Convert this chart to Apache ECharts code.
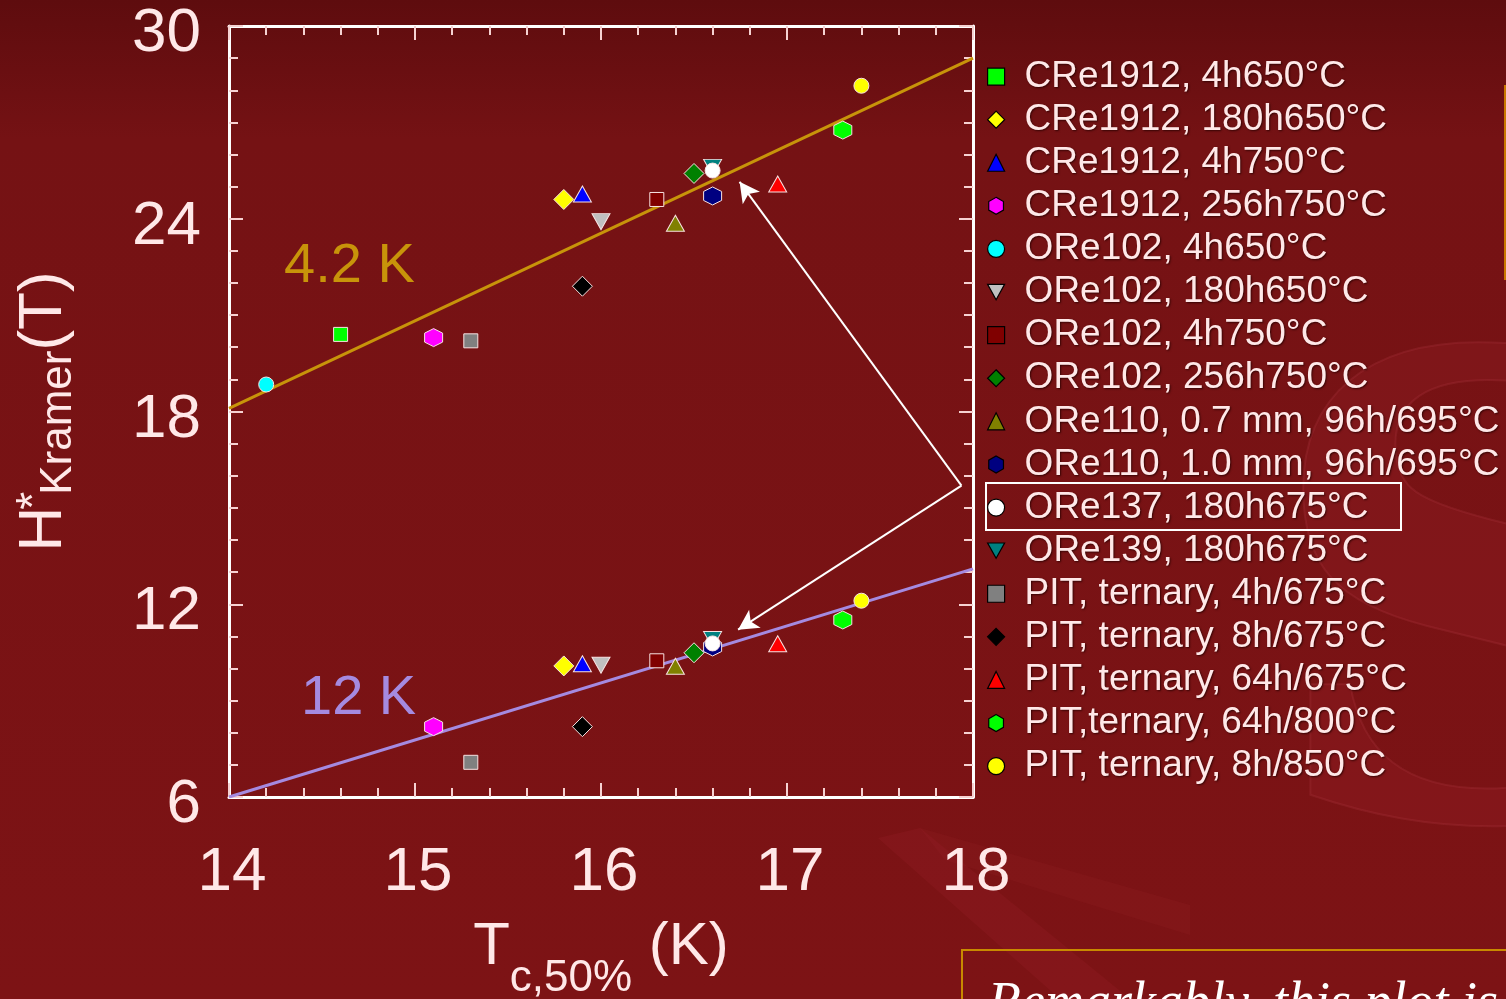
<!DOCTYPE html>
<html>
<head>
<meta charset="utf-8">
<title>Kramer field vs Tc</title>
<script src="https://cdn.jsdelivr.net/npm/echarts@6/dist/echarts.min.js"></script>
<style>
  html, body { margin: 0; padding: 0; background: #7a1214; }
  #chart { width: 1506px; height: 999px; }
</style>
</head>
<body>
<div id="chart"></div>
<script>
// Samples (wire, heat treatment)
const sampleNames = [
  'CRe1912, 4h650°C',
  'CRe1912, 180h650°C',
  'CRe1912, 4h750°C',
  'CRe1912, 256h750°C',
  'ORe102, 4h650°C',
  'ORe102, 180h650°C',
  'ORe102, 4h750°C',
  'ORe102, 256h750°C',
  'ORe110, 0.7 mm, 96h/695°C',
  'ORe110, 1.0 mm, 96h/695°C',
  'ORe137, 180h675°C',
  'ORe139, 180h675°C',
  'PIT, ternary, 4h/675°C',
  'PIT, ternary, 8h/675°C',
  'PIT, ternary, 64h/675°C',
  'PIT,ternary, 64h/800°C',
  'PIT, ternary, 8h/850°C'
];
// Tc at 50% transition (K)
const tc50 = [14.6, 15.8, 15.9, 15.1, 14.2, 16.0, 16.3, 16.5, 16.4, 16.6, 16.6, 16.6, 15.3, 15.9, 16.95, 17.3, 17.4];
// Kramer-extrapolated H* at 4.2 K (T)
const hKramer42 = [20.4, 24.6, 24.77, 20.3, 18.84, 23.91, 24.6, 25.41, 23.86, 24.71, 25.5, 25.6, 20.2, 21.9, 25.08, 26.76, 28.14];
// Kramer-extrapolated H* at 12 K (T); null where not measured
const hKramer12 = [null, 10.08, 10.15, 8.19, null, 10.1, 10.24, 10.49, 10.07, 10.67, 10.78, 10.9, 7.08, 8.19, 10.77, 11.51, 12.11];
// Linear trends
const trend42 = [[14, 18.1], [18, 29.0]];
const trend12 = [[14, 6.0], [18, 13.1]];
// Annotation arrows: shared tail, two heads
const arrowTail = [17.938, 15.69];
const arrowHeads = [[16.745, 25.15], [16.737, 11.21]];

const HEX = 'path://M0,-1 L0.866,-0.5 L0.866,0.5 L0,1 L-0.866,0.5 L-0.866,-0.5 Z';
const TRI_DOWN = 'path://M0,0 L2,0 L1,1.8 Z';

const markerStyle = [
  { symbol: 'rect', size: 14, color: '#00ff00' },
  { symbol: 'diamond', size: 20, color: '#ffff00' },
  { symbol: 'triangle', size: [18, 16], color: '#0000ff' },
  { symbol: HEX, size: 18, color: '#ff00ff' },
  { symbol: 'circle', size: 15, color: '#00ffff' },
  { symbol: TRI_DOWN, size: [18, 16], color: '#c0c0c0' },
  { symbol: 'rect', size: 14, color: '#800000' },
  { symbol: 'diamond', size: 20, color: '#008000' },
  { symbol: 'triangle', size: [18, 16], color: '#808000' },
  { symbol: HEX, size: 18, color: '#000080' },
  { symbol: 'circle', size: 15, color: '#ffffff', z: 4 },
  { symbol: TRI_DOWN, size: [18, 16], color: '#008080' },
  { symbol: 'rect', size: 14, color: '#808080' },
  { symbol: 'diamond', size: 20, color: '#000000' },
  { symbol: 'triangle', size: [18, 16], color: '#ff0000' },
  { symbol: HEX, size: 18, color: '#00ff00' },
  { symbol: 'circle', size: 15, color: '#ffff00' }
];

const FONT = '"Liberation Sans", Arial, sans-serif';
const TXT = '#ffe8e8';
const TICK = '#f6d2d2';

const scatterSeries = sampleNames.map(function (name, i) {
  const pts = [[tc50[i], hKramer42[i]]];
  if (hKramer12[i] != null) pts.push([tc50[i], hKramer12[i]]);
  const m = markerStyle[i];
  return {
    name: name,
    type: 'scatter',
    z: m.z || 3,
    symbol: m.symbol,
    symbolSize: m.size,
    itemStyle: { color: m.color, borderColor: '#f8e2e2', borderWidth: 1, opacity: 1 },
    emphasis: { disabled: true },
    data: pts
  };
});

function axisCommon(showLabels) {
  return {
    axisLine: { show: true, onZero: false, lineStyle: { color: '#ffffff', width: 3 } },
    axisTick: { show: true, inside: true, length: 14, lineStyle: { color: TICK, width: 2 } },
    minorTick: { show: true, length: 9, lineStyle: { color: TICK, width: 2 } },
    splitLine: { show: false },
    minorSplitLine: { show: false },
    axisLabel: { show: showLabels, color: TXT, fontSize: 62, fontFamily: FONT }
  };
}

const xBottom = Object.assign(axisCommon(true), {
  type: 'value', position: 'bottom', min: 14, max: 18, interval: 1,
  name: '{t|T}{sub|c,50%}{t| (K)}',
  nameLocation: 'middle', nameGap: 120,
  nameTextStyle: {
    color: TXT, fontFamily: FONT,
    rich: {
      t: { fontSize: 60, color: TXT, fontFamily: FONT, verticalAlign: 'top', lineHeight: 64 },
      sub: { fontSize: 44, color: TXT, fontFamily: FONT, verticalAlign: 'bottom', padding: [40, 0, 0, 0] }
    }
  }
});
xBottom.minorTick.splitNumber = 5;
xBottom.axisLabel.margin = 45;
xBottom.axisLabel.padding = [0, 0, 0, 6];

const xTop = Object.assign(axisCommon(false), {
  type: 'value', position: 'top', min: 14, max: 18, interval: 1
});
xTop.minorTick.splitNumber = 5;

const yLeft = Object.assign(axisCommon(true), {
  type: 'value', position: 'left', min: 6, max: 30, interval: 6,
  name: '{h|H}{sup|*}{sub|Kramer}{h|(T)}',
  nameLocation: 'middle', nameRotate: 90, nameGap: 148,
  nameTextStyle: {
    color: TXT, fontFamily: FONT,
    rich: {
      h: { fontSize: 62, color: TXT, fontFamily: FONT, lineHeight: 64 },
      sup: { fontSize: 46, color: TXT, fontFamily: FONT, width: 12, padding: [0, 0, 18, 0] },
      sub: { fontSize: 44, color: TXT, fontFamily: FONT, padding: [30, 0, 0, 0] }
    }
  }
});
yLeft.minorTick.splitNumber = 6;
yLeft.axisLabel.margin = 28;
yLeft.axisLabel.formatter = '{v|{value}}';
yLeft.axisLabel.rich = {
  v: { fontSize: 62, color: TXT, fontFamily: FONT, lineHeight: 62, padding: [16, 0, 0, 0] }
};

const yRight = Object.assign(axisCommon(false), {
  type: 'value', position: 'right', min: 6, max: 30, interval: 6
});
yRight.minorTick.splitNumber = 6;

const lineSeries = [
  {
    name: 'trend 4.2 K', type: 'line', data: trend42, symbol: 'none', z: 2,
    lineStyle: { color: '#c8940a', width: 3 }, silent: true,
    markLine: {
      silent: true, symbol: ['none', 'arrow'], symbolSize: [16, 20],
      lineStyle: { color: '#ffffff', width: 2, type: 'solid' },
      label: { show: false },
      data: arrowHeads.map(function (h) { return [{ coord: arrowTail }, { coord: h }]; })
    }
  },
  {
    name: 'trend 12 K', type: 'line', data: trend12, symbol: 'none', z: 2,
    lineStyle: { color: '#a58ae0', width: 3 }, silent: true
  }
];

const chart = echarts.init(document.getElementById('chart'), null, { renderer: 'canvas' });

chart.setOption({
  backgroundColor: {
    type: 'linear', x: 0, y: 0, x2: 0, y2: 1,
    colorStops: [
      { offset: 0, color: '#5e0c0e' },
      { offset: 0.14, color: '#751214' },
      { offset: 1, color: '#7d1315' }
    ]
  },
  animation: false,
  grid: { left: 229, right: 533, top: 26, bottom: 202, outerBoundsMode: 'none', containLabel: false },
  xAxis: [xBottom, xTop],
  yAxis: [yLeft, yRight],
  legend: {
    data: sampleNames,
    orient: 'vertical',
    left: 982, top: 50,
    itemWidth: 17, itemHeight: 17,
    itemGap: 0,
    selectedMode: false,
    itemStyle: { borderColor: '#000000', borderWidth: 1.2 },
    textStyle: {
      color: TXT, fontSize: 37, fontFamily: FONT, lineHeight: 43.1,
      padding: [0, 0, 0, 15],
      textShadowColor: 'rgba(40,0,0,0.8)', textShadowBlur: 2, textShadowOffsetX: 1, textShadowOffsetY: 1
    }
  },
  graphic: [
    // faint relief letters in the backdrop
    {
      type: 'text', z: -10, silent: true, left: 1260, top: 330,
      style: { text: 'S', font: 'bold 640px "DejaVu Serif", serif', fill: 'rgba(175,45,55,0.16)', stroke: 'rgba(200,80,90,0.18)', lineWidth: 2 }
    },
    {
      type: 'polygon', z: -10, silent: true,
      shape: { points: [[878, 838], [920, 828], [1130, 999], [1060, 999]] },
      style: { fill: 'rgba(175,45,55,0.14)' }
    },
    {
      type: 'polygon', z: -10, silent: true,
      shape: { points: [[920, 828], [1190, 905], [1190, 935], [945, 860]] },
      style: { fill: 'rgba(175,45,55,0.10)' }
    },
    // curve labels
    {
      type: 'text', left: 284, top: 239, silent: true,
      style: { text: '4.2 K', font: '56px "Liberation Sans", Arial, sans-serif', fill: '#c8940a' }
    },
    {
      type: 'text', left: 301, top: 671, silent: true,
      style: { text: '12 K', font: '56px "Liberation Sans", Arial, sans-serif', fill: '#a58ae0' }
    },
    // highlight around one legend entry
    {
      type: 'rect', silent: true, z: 10,
      shape: { x: 986, y: 483, width: 415, height: 47 },
      style: { fill: 'none', stroke: '#ffffff', lineWidth: 2 }
    },
    // note box at the lower right
    {
      type: 'rect', silent: true,
      shape: { x: 962, y: 950, width: 560, height: 80 },
      style: { fill: 'none', stroke: '#c88a00', lineWidth: 2 }
    },
    {
      type: 'text', silent: true, left: 988, top: 978,
      style: { text: 'Remarkably, this plot is', font: 'italic 54px "Liberation Serif", "DejaVu Serif", serif', fill: '#ffffff' }
    },
    {
      type: 'line', silent: true,
      shape: { x1: 1505, y1: 85, x2: 1505, y2: 280 },
      style: { stroke: '#c87800', lineWidth: 2 }
    }
  ],
  series: scatterSeries.concat(lineSeries)
});
</script>
</body>
</html>
